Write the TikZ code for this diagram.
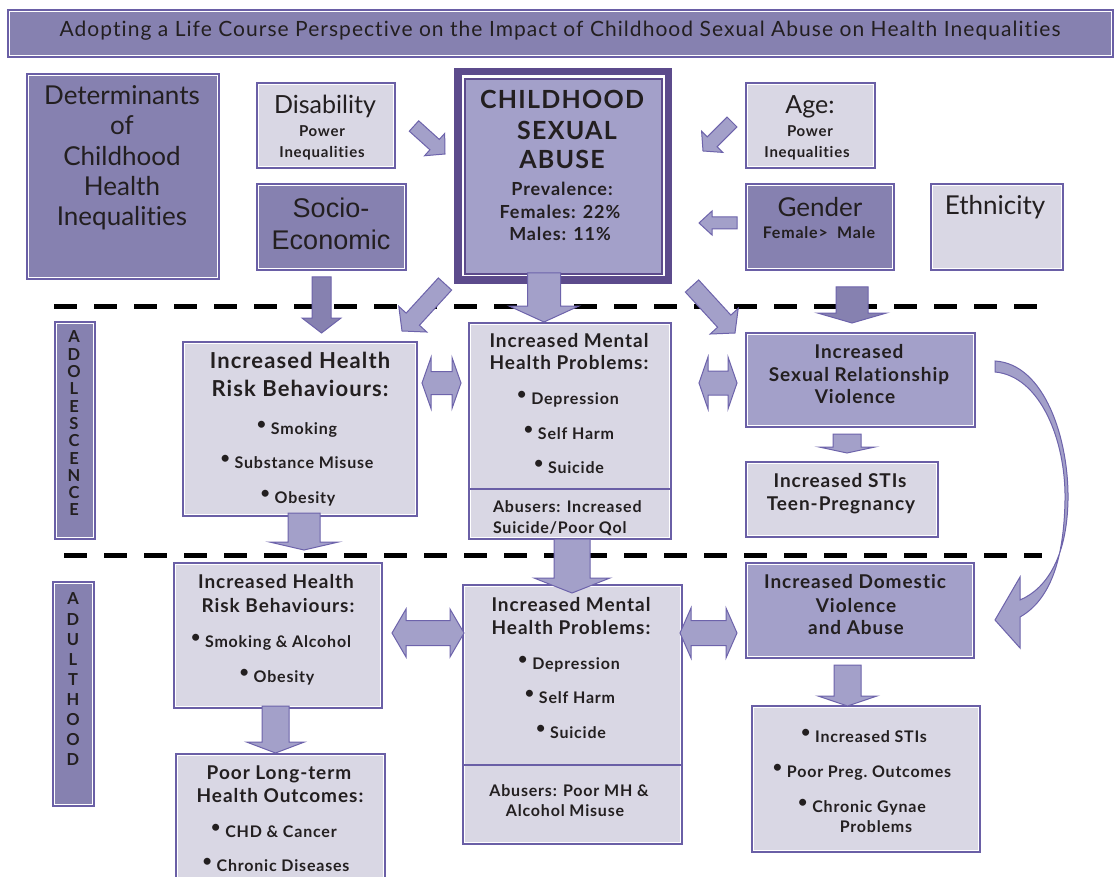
\documentclass[tikz,border=0pt]{standalone}
\usepackage{fontspec}
\setmainfont{Lato}[Ligatures=NoCommon, BoldFeatures={LetterSpace=5}]
\newfontfamily\arialf{Liberation Sans}
\usetikzlibrary{calc}
\definecolor{darkfill}{RGB}{134,129,176}
\definecolor{midfill}{RGB}{163,160,201}
\definecolor{lightfill}{RGB}{217,215,228}
\definecolor{bordc}{RGB}{106,95,166}
\definecolor{framec}{RGB}{92,75,140}
\definecolor{arrc}{RGB}{109,99,171}
\definecolor{txtc}{RGB}{35,31,32}
\newcounter{tn}
\newcommand\fs[1]{\fontsize{#1}{#1}\selectfont}
\newcommand\bul{\raisebox{0.3em}{\textbullet}\hspace{0.3em}}
\tikzset{
  box/.style={draw=bordc, line width=1.2pt, inner sep=0pt, outer sep=0pt},
  tx/.style={inner sep=0pt, outer sep=0pt, text depth=0pt, anchor=center, text=txtc},
  barrow/.style={fill=midfill, draw=arrc, line width=1pt, line join=miter},
  darrow/.style={barrow, fill=darkfill},
  dashline/.style={draw=black, line width=5pt, dash pattern=on 23pt off 17pt},
}
% text line: [opts]{x}{y}{size}{text}
\newcommand\tl[5][]{\stepcounter{tn}\node[tx, font=\fs{#4}, text height={0.72*#4pt}, #1] (t\arabic{tn}) at (#2,#3) {#5};}
% box: name x1 y1 x2 y2 style
\newcommand\bx[6]{\node[box,#6,minimum width={(#4-#2)*1pt},minimum height={(#5-#3)*1pt}] (#1) at ({(#2+#4)/2},{(#3+#5)/2}) {};}
\newcommand\winset[1]{\draw[white,line width=0.9pt] ([shift={(1.3,1.3)}]#1.north west) rectangle ([shift={(-1.3,-1.3)}]#1.south east);}
% block arrow: [style]{A}{B}{head length}{half shaft}{half head}
\newcommand\barr[6][]{%
  \coordinate (aA) at #2; \coordinate (aB) at #3;
  \coordinate (aH) at ($(aB)!#4pt!(aA)$);
  \draw[barrow,#1] ($(aA)!#5pt!90:(aB)$) -- ($(aH)!#5pt!90:(aB)$) -- ($(aH)!#6pt!90:(aB)$) -- (aB) -- ($(aH)!#6pt!-90:(aB)$) -- ($(aH)!#5pt!-90:(aB)$) -- ($(aA)!#5pt!-90:(aB)$) -- cycle;}
% double arrow: xl xr cy hl sh hh
\newcommand\dbarr[6]{\draw[barrow] (#1,#3) -- ({#1+#4},{#3-#6}) -- ({#1+#4},{#3-#5}) -- ({#2-#4},{#3-#5}) -- ({#2-#4},{#3-#6}) -- (#2,#3) -- ({#2-#4},{#3+#6}) -- ({#2-#4},{#3+#5}) -- ({#1+#4},{#3+#5}) -- ({#1+#4},{#3+#6}) -- cycle;}
\begin{document}
\begin{tikzpicture}[x=1pt,y=-1pt]
\useasboundingbox (0,0) rectangle (1116,877);
\clip (0,0) rectangle (1116,877);
\fill[white] (0,0) rectangle (1116,877);
% dashed separators
\draw[dashline] (54,306) -- (1042,306);
\draw[dashline] (64,555) -- (1042,555);
% boxes
\bx{title}{8}{10}{1113}{57}{fill=darkfill}
\bx{det}{27}{74}{219}{279}{fill=darkfill}
\bx{disab}{257}{83}{395}{168}{fill=lightfill}
\bx{socio}{257}{184}{406}{270}{fill=darkfill}
\bx{age}{746}{83}{875}{168}{fill=lightfill}
\bx{gender}{746}{184}{894}{270}{fill=darkfill}
\bx{ethn}{931}{184}{1063}{270}{fill=lightfill}
\bx{adol}{55}{322}{95}{539}{fill=darkfill}
\bx{hr1}{183}{342}{417}{516}{fill=lightfill}
\bx{mh1}{469}{323}{671}{539}{fill=lightfill}
\bx{srv}{746}{333}{975}{427}{fill=midfill}
\bx{sti}{746}{462}{938}{537}{fill=lightfill}
\bx{adult}{53}{582}{94}{806}{fill=darkfill}
\bx{hr2}{174}{563}{382}{708}{fill=lightfill}
\bx{poor}{176}{754}{385}{890}{fill=lightfill}
\bx{mh2}{463}{585}{682}{844}{fill=lightfill}
\bx{dv}{746}{563}{974}{658}{fill=midfill}
\bx{outc}{752}{706}{980}{852}{fill=lightfill}
\foreach \n in {title,det,disab,socio,age,gender,ethn,adol,hr1,mh1,srv,sti,adult,hr2,poor,mh2,dv,outc} {\winset{\n}}
\draw[bordc,line width=1.2pt] (469,489) -- (671,489);
\draw[bordc,line width=1.2pt] (463,765) -- (682,765);
% CSA frame
\node[draw=framec, line width=7.5pt, minimum width=210.5pt, minimum height=208.5pt, inner sep=0pt] (csaframe) at (563,176) {};
\bx{csa}{465}{79}{662}{274}{fill=midfill, draw=framec, line width=2pt}
% arrows
\barr{(414,126)}{(445,154)}{14}{7}{15}
\barr{(732,122)}{(703,151)}{13}{7}{15}
\barr{(737,223)}{(699,223)}{13}{6}{12}
\barr[darrow]{(321.5,277)}{(321.5,333)}{15}{9.5}{19.5}
\barr{(445,284)}{(402,331)}{16}{9}{19}
\barr{(544,273)}{(544,322)}{16}{16.5}{35}
\barr{(692,286)}{(735,333)}{16}{9}{19}
\barr[darrow]{(852,287)}{(852,323)}{10}{16}{34.5}
\barr{(304,513)}{(304,550)}{8}{16}{34.5}
\barr{(847,434)}{(847,453)}{6}{14}{28}
\barr{(572,539)}{(572,593)}{15}{18}{38}
\barr{(275.5,706)}{(275.5,753)}{11}{13.5}{29}
\barr{(847.5,665)}{(847.5,706)}{10}{13.5}{29.5}
\dbarr{422}{461}{383}{9}{11.5}{25.5}
\dbarr{699}{737}{383}{9}{12}{26}
\dbarr{392}{464}{633}{14}{12.5}{24}
\dbarr{680}{737}{633}{11}{12.5}{25}
\draw[barrow] (995,361) .. controls (1045,364) and (1069,440) .. (1068,500) .. controls (1067,555) and (1048,588) .. (1020,600) -- (1020,577) -- (995,620) -- (1020,648) -- (1020,617) .. controls (1050,600) and (1064,560) .. (1065,500) .. controls (1066,440) and (1040,376) .. (995,372) -- cycle;
% texts
\tl{560}{29}{21}{\addfontfeature{LetterSpace=5}Adopting a Life Course Perspective on the Impact of Childhood Sexual Abuse on Health Inequalities}
\tl{122}{95}{26}{Determinants}
\tl{122}{125}{26}{of}
\tl{122}{156}{26}{Childhood}
\tl{122}{186}{26}{Health}
\tl{122}{216}{26}{Inequalities}
\tl{325}{105}{25}{Disability}
\tl{322}{131}{15}{\bfseries Power}
\tl{322}{152}{15}{\bfseries Inequalities}
\tl{331}{208}{27}{\arialf Socio-}
\tl{331}{240}{27}{\arialf Economic}
\tl{562}{100}{25}{\bfseries CHILDHOOD}
\tl{567}{131}{25}{\bfseries SEXUAL}
\tl{562}{160}{25}{\bfseries ABUSE}
\tl{562}{189}{18}{\bfseries Prevalence:}
\tl{560}{212}{18}{\bfseries Females: 22\%}
\tl{560}{234}{18}{\bfseries Males: 11\%}
\tl{810}{105}{25}{Age:}
\tl{810}{131}{15}{\bfseries Power}
\tl{807}{152}{15}{\bfseries Inequalities}
\tl{820}{207}{26}{Gender}
\tl{819}{233}{16}{\bfseries Female>\ \ Male}
\tl{995}{205}{26}{Ethnicity}
\foreach \L [count=\i] in {A,D,O,L,E,S,C,E,N,C,E} {\node[tx, font=\fs{16.5}\bfseries, text height=11.9pt] (ad\i) at (74,{337+(\i-1)*17.3}) {\L};}
\foreach \L [count=\i] in {A,D,U,L,T,H,O,O,D} {\node[tx, font=\fs{16.5}\bfseries, text height=11.9pt] (au\i) at (73,{599+(\i-1)*20.1}) {\L};}
% adolescence
\tl{300}{361}{22}{\bfseries Increased Health}
\tl{300}{389}{22}{\bfseries Risk Behaviours:}
\tl{297}{429}{16}{\bfseries\bul Smoking}
\tl{297}{463}{16}{\bfseries\bul Substance Misuse}
\tl{298}{498}{16}{\bfseries\bul Obesity}
\tl{569}{341}{19}{\bfseries Increased Mental}
\tl{569}{363}{19}{\bfseries Health Problems:}
\tl{568}{399}{16}{\bfseries\bul Depression}
\tl{569}{434}{16}{\bfseries\bul Self Harm}
\tl{569}{468}{16}{\bfseries\bul Suicide}
\tl[anchor=west]{493}{507}{16}{\bfseries Abusers: Increased}
\tl[anchor=west]{493}{528}{16}{\bfseries Suicide/Poor Qol}
\tl{859}{352}{19}{\bfseries Increased}
\tl{859}{375}{19}{\bfseries Sexual Relationship}
\tl{855}{397}{19}{\bfseries Violence}
\tl{840}{481}{19}{\bfseries Increased STIs}
\tl{841}{504}{19}{\bfseries Teen-Pregnancy}
% adulthood
\tl{276}{582}{19}{\bfseries Increased Health}
\tl{278}{606}{19}{\bfseries Risk Behaviours:}
\tl{271}{642}{16}{\bfseries\bul Smoking \& Alcohol}
\tl{277}{677}{16}{\bfseries\bul Obesity}
\tl{279}{773}{19}{\bfseries Poor Long-term}
\tl{280}{796}{19}{\bfseries Health Outcomes:}
\tl{274}{832}{16}{\bfseries\bul CHD \& Cancer}
\tl{276}{866}{16}{\bfseries\bul Chronic Diseases}
\tl{571}{605}{19}{\bfseries Increased Mental}
\tl{571}{628}{19}{\bfseries Health Problems:}
\tl{569}{664}{16}{\bfseries\bul Depression}
\tl{570}{698}{16}{\bfseries\bul Self Harm}
\tl{571}{733}{16}{\bfseries\bul Suicide}
\tl{569}{791}{16}{\bfseries Abusers: Poor MH \&}
\tl{565}{811}{16}{\bfseries Alcohol Misuse}
\tl{855}{582}{19}{\bfseries Increased Domestic}
\tl{856}{606}{19}{\bfseries Violence}
\tl{856}{628}{19}{\bfseries and Abuse}
\tl{864}{737}{16}{\bfseries\bul Increased STIs}
\tl{862}{772}{16}{\bfseries\bul Poor Preg.\ Outcomes}
\tl{862}{807}{16}{\bfseries\bul Chronic Gynae}
\tl{876}{827}{16}{\bfseries Problems}
\end{tikzpicture}
\end{document}
